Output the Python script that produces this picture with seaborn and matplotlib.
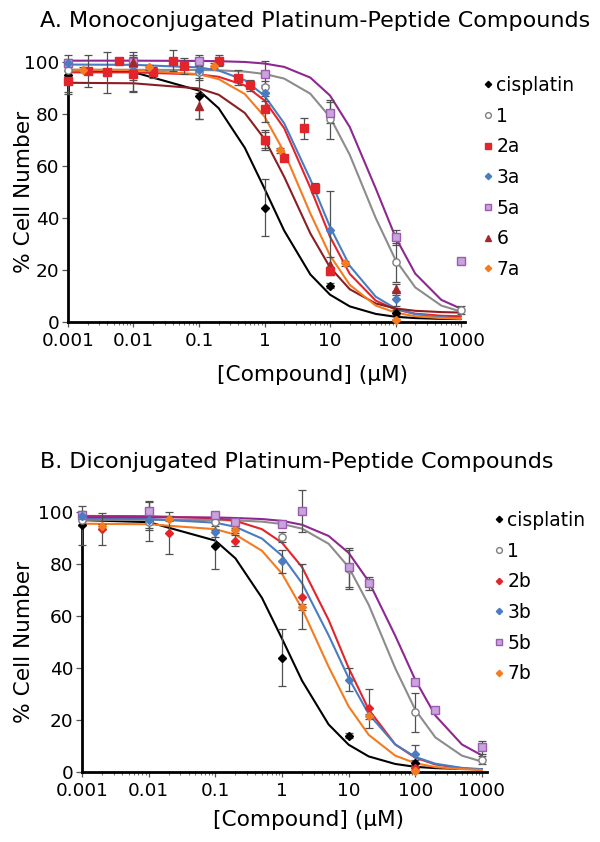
import pandas as pd
import seaborn as sns
import matplotlib.pyplot as plt
from matplotlib.lines import Line2D

conc = [0.001, 0.01, 0.1, 0.2, 0.5, 1, 2, 5, 10, 20, 50, 100, 200, 500, 1000]

# fitted curves (% cell number)
fit_cis = [96.9, 96.1, 89.0, 82.2, 67.0, 51.3, 35.1, 18.3, 10.5, 6.0, 3.1, 2.0, 1.5, 1.2, 1.1]
fit_1 = [97.0, 97.0, 96.9, 96.8, 96.3, 95.4, 93.6, 87.8, 78.8, 64.3, 39.9, 23.9, 13.3, 6.3, 4.0]
fit_2a = [96.0, 96.0, 95.2, 94.3, 91.0, 85.2, 74.5, 51.7, 32.8, 18.5, 8.2, 4.8, 3.2, 2.4, 2.2]
fit_3a = [99.0, 98.9, 97.9, 96.7, 93.0, 87.0, 76.4, 54.9, 36.6, 21.6, 9.7, 5.2, 3.0, 1.8, 1.4]
fit_5a = [100.5, 100.5, 100.4, 100.3, 100.0, 99.4, 98.1, 94.0, 87.1, 75.0, 51.3, 32.6, 18.6, 8.5, 5.1]
fit_6 = [92.0, 91.8, 89.8, 87.4, 80.4, 70.4, 55.8, 34.1, 21.0, 12.6, 7.1, 5.2, 4.3, 3.8, 3.6]
fit_7a = [97.0, 96.9, 95.3, 93.4, 87.7, 79.0, 65.3, 41.8, 25.6, 14.3, 6.3, 3.6, 2.2, 1.5, 1.2]
fit_2b = [98.5, 98.4, 97.6, 96.6, 93.4, 88.2, 78.8, 58.5, 40.0, 24.0, 10.6, 5.5, 2.9, 1.4, 0.9]
fit_3b = [97.5, 97.3, 95.9, 94.3, 89.8, 83.2, 72.6, 52.6, 36.1, 22.3, 10.6, 5.8, 3.2, 1.6, 1.1]
fit_5b = [98.0, 98.0, 97.9, 97.7, 97.3, 96.6, 95.1, 90.8, 84.3, 73.3, 52.4, 35.4, 21.7, 10.6, 6.4]
fit_7b = [95.5, 95.3, 93.4, 91.3, 85.1, 76.3, 62.8, 40.5, 25.2, 14.3, 6.3, 3.4, 1.9, 1.1, 0.8]

# measured points with error bars
cis_x = [0.001, 0.01, 0.1, 1, 10, 100]
cis_y = [95, 96.5, 87, 44, 14, 3.5]
cis_e = [7.5, 7.5, 9, 11, 1, 1]

c1_x = [0.001, 0.01, 0.1, 1, 10, 100, 1000]
c1_y = [97, 96, 96, 90.5, 78, 23, 4.6]
c1_e = [2, 3, 3, 2, 7.5, 7.5, 1.5]

c2a_x = [0.001, 0.002, 0.004, 0.006, 0.01, 0.02, 0.04, 0.06, 0.2, 0.4, 0.6, 1, 1, 2, 4, 6, 10]
c2a_y = [92.5, 96.5, 96, 100.5, 95.5, 96, 100.5, 98.5, 100.5, 94, 91, 82, 70, 63, 74.5, 51.5, 19.5]
c2a_e = [4, 6, 8, 1, 7, 2, 4, 3, 2, 3, 2, 5, 3, 1, 4, 2, 1.5]

c3a_x = [0.001, 0.01, 0.1, 1, 10, 100]
c3a_y = [99.5, 98.5, 97, 88, 35.5, 9]
c3a_e = [1.5, 2, 3, 3, 15, 3]

c5a_x = [0.001, 0.01, 0.1, 1, 10, 100, 1000]
c5a_y = [99.5, 100, 100.5, 95.5, 80.5, 32.5, 23.5]
c5a_e = [1, 2, 2, 5, 4, 3, 1]

c6_x = [0.01, 0.1, 1, 10, 100]
c6_y = [100, 83, 70, 22, 12.5]
c6_e = [2, 5, 4, 3, 2]

c7a_x = [0.0017, 0.017, 0.17, 1.7, 17, 100]
c7a_y = [97, 98, 98.5, 66, 22.5, 0.8]
c7a_e = [1, 1, 1, 1, 1, 0.5]

c2b_x = [0.002, 0.02, 0.2, 2, 20, 100]
c2b_y = [93.5, 92, 89, 67.5, 24.5, 1.5]
c2b_e = [6, 8, 2, 12.5, 7.5, 1]

c3b_x = [0.001, 0.01, 0.1, 1, 10, 100]
c3b_y = [98.5, 97, 92.5, 81, 35.5, 7]
c3b_e = [2, 3, 2, 4.5, 4.5, 3.5]

c5b_x = [0.001, 0.01, 0.1, 0.2, 1, 2, 10, 20, 100, 200, 1000]
c5b_y = [99, 100.3, 99, 96.2, 95.3, 100.3, 78.7, 72.6, 34.7, 24, 9.5]
c5b_e = [1, 4, 1, 1, 1, 8, 7.5, 2.5, 1, 1, 2.5]

c7b_x = [0.002, 0.02, 0.2, 2, 20, 100]
c7b_y = [94.5, 97.5, 93, 63.5, 21.5, 0.3]
c7b_e = [1, 1, 1, 1, 1, 0.5]

labels_a = ["cisplatin", "1", "2a", "3a", "5a", "6", "7a"]
labels_b = ["cisplatin", "1", "2b", "3b", "5b", "7b"]

BLACK, GRAY, RED, BLUE = "#000000", "#8c8c8c", "#e3242b", "#4a7cc1"
PURPLE, MAROON, ORANGE = "#8e278f", "#8b1e22", "#f47b20"

sns.set_theme(style="ticks")
plt.rcParams["font.family"] = ["DejaVu Sans"]
plt.rcParams.update({"text.color": "black", "axes.labelcolor": "black",
                     "xtick.labelcolor": "black", "ytick.labelcolor": "black"})

fig = plt.figure(figsize=(6, 8.42), dpi=100)
axA = fig.add_axes([0.1133, 0.6176, 0.6617, 0.3088])
axB = fig.add_axes([0.1367, 0.0831, 0.675, 0.3088])

# marker styles: (marker, face, edge, size)
styles = {
    "cisplatin": ("D", BLACK, BLACK, 4.0),
    "1": ("o", "white", "#7f7f7f", 5.2),
    "2a": ("s", RED, RED, 5.2),
    "3a": ("D", BLUE, BLUE, 4.0),
    "5a": ("s", "#c9a3dc", "#9a5bb0", 5.2),
    "6": ("^", "#a3282c", "#a3282c", 5.5),
    "7a": ("D", ORANGE, ORANGE, 4.0),
    "2b": ("D", RED, RED, 4.0),
    "3b": ("D", BLUE, BLUE, 4.0),
    "5b": ("s", "#c9a3dc", "#9a5bb0", 5.2),
    "7b": ("D", ORANGE, ORANGE, 4.0),
}


def draw_panel(ax, curves, colors, points, labels, xmax, legend_anchor):
    rows = []
    for name, vals in curves.items():
        for c, v in zip(conc, vals):
            rows.append({"compound": name, "conc": c, "pct": v})
    df = pd.DataFrame(rows)
    ax.set_xscale("log")
    sns.lineplot(data=df, x="conc", y="pct", hue="compound", palette=colors,
                 ax=ax, legend=False, linewidth=1.5)
    for name, (px, py, pe) in points.items():
        m, fc, ec, ms = styles[name]
        ax.errorbar(px, py, yerr=pe, fmt="none", ecolor="#505050",
                    elinewidth=0.9, capsize=3, capthick=0.9, zorder=3)
        ax.plot(px, py, linestyle="none", marker=m, mfc=fc, mec=ec, ms=ms,
                mew=1.0, zorder=4)
    for art in ax.lines + ax.collections:
        art.set_clip_on(False)

    ax.set_xlim(0.001, xmax)
    ax.set_ylim(0, 100)
    ax.set_yticks([0, 20, 40, 60, 80, 100])
    ax.set_xticks([0.001, 0.01, 0.1, 1, 10, 100, 1000])
    ax.set_xticklabels(["0.001", "0.01", "0.1", "1", "10", "100", "1000"])
    sns.despine(ax=ax)
    for s in ["left", "bottom"]:
        ax.spines[s].set_linewidth(2)
        ax.spines[s].set_color("black")
    ax.tick_params(axis="x", which="major", length=3.5, width=0.9,
                   color="#555555", labelsize=13.3, pad=4)
    ax.tick_params(axis="y", which="major", length=4.5, width=0.9,
                   color="#555555", labelsize=13.3, pad=1.5)
    ax.tick_params(axis="x", which="minor", length=2.5, width=0.8, color="#777777")
    ax.set_xlabel("[Compound] (\u03bcM)", fontsize=15.6)
    ax.set_ylabel("% Cell Number", fontsize=15.6)
    ax.xaxis.label.set_va("center")
    ax.yaxis.label.set_va("center")

    handles = []
    for name in labels:
        m, fc, ec, ms = styles[name]
        handles.append(Line2D([], [], linestyle="none", marker=m, mfc=fc, mec=ec,
                              ms=ms * 0.8, mew=1.0))
    ax.legend(handles, labels, loc="upper left", bbox_to_anchor=legend_anchor,
              bbox_transform=fig.transFigure, frameon=False, fontsize=13.5,
              handlelength=0.4, handletextpad=0.25, labelspacing=0.62,
              borderpad=0, borderaxespad=0)


curves_a = {"cisplatin": fit_cis, "1": fit_1, "2a": fit_2a, "3a": fit_3a,
            "5a": fit_5a, "6": fit_6, "7a": fit_7a}
colors_a = {"cisplatin": BLACK, "1": GRAY, "2a": RED, "3a": BLUE,
            "5a": PURPLE, "6": MAROON, "7a": ORANGE}
points_a = {"cisplatin": (cis_x, cis_y, cis_e), "1": (c1_x, c1_y, c1_e),
            "5a": (c5a_x, c5a_y, c5a_e), "3a": (c3a_x, c3a_y, c3a_e),
            "6": (c6_x, c6_y, c6_e), "2a": (c2a_x, c2a_y, c2a_e),
            "7a": (c7a_x, c7a_y, c7a_e)}

curves_b = {"cisplatin": fit_cis, "1": fit_1, "2b": fit_2b, "3b": fit_3b,
            "5b": fit_5b, "7b": fit_7b}
colors_b = {"cisplatin": BLACK, "1": GRAY, "2b": RED, "3b": BLUE,
            "5b": PURPLE, "7b": ORANGE}
points_b = {"cisplatin": (cis_x, cis_y, cis_e), "1": (c1_x, c1_y, c1_e),
            "5b": (c5b_x, c5b_y, c5b_e), "3b": (c3b_x, c3b_y, c3b_e),
            "2b": (c2b_x, c2b_y, c2b_e), "7b": (c7b_x, c7b_y, c7b_e)}

draw_panel(axA, curves_a, colors_a, points_a, labels_a, 1150, (0.807, 0.9097))
draw_panel(axB, curves_b, colors_b, points_b, labels_b, 1190, (0.825, 0.3931))

axA.xaxis.set_label_coords(0.615, -0.204)
axA.yaxis.set_label_coords(-0.111, 0.5)
axB.xaxis.set_label_coords(0.558, -0.185)
axB.yaxis.set_label_coords(-0.143, 0.5)

fig.text(40 / 600, 1 - 21 / 842, "A. Monoconjugated Platinum-Peptide Compounds",
         fontsize=16, ha="left", va="center")
fig.text(40 / 600, 1 - 461.5 / 842, "B. Diconjugated Platinum-Peptide Compounds",
         fontsize=16, ha="left", va="center")

fig.savefig("out.png", dpi=100)
